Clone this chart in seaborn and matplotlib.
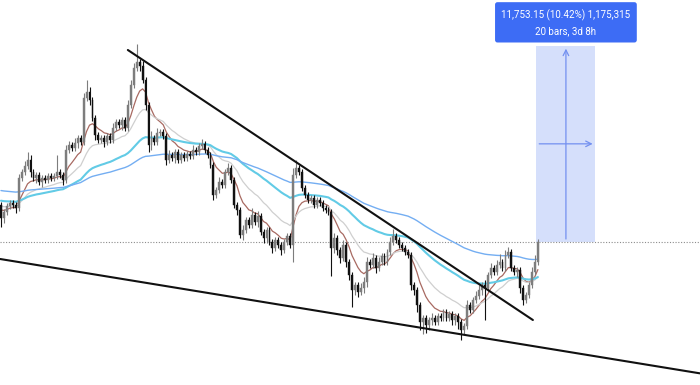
import numpy as np
import pandas as pd
import matplotlib
matplotlib.use("Agg")
import matplotlib.pyplot as plt
import seaborn as sns

# --- data: 4h candles, prices in thousands ---
close = [
    114.22, 114.58, 114.94, 115.12, 115.00, 114.82, 116.62, 116.98, 117.34, 117.70,
    116.98, 116.62, 116.80, 116.38, 116.62, 116.50, 116.74, 116.62, 116.74, 116.98,
    116.80, 116.50, 118.30, 118.60, 118.42, 118.72, 119.02, 118.78, 121.42, 121.78,
    121.30, 120.22, 119.20, 118.90, 119.02, 118.78, 119.14, 118.90, 119.62, 119.98,
    119.80, 120.10, 119.62, 121.00, 122.20, 123.22, 123.58, 123.34, 122.50, 121.00,
    118.60, 119.02, 118.78, 119.32, 119.38, 119.14, 117.70, 118.00, 117.82, 118.18,
    117.70, 118.00, 117.82, 118.06, 117.94, 118.30, 118.18, 118.54, 118.66, 118.30,
    118.00, 117.40, 115.60, 115.90, 116.38, 116.20, 116.98, 117.22, 116.50, 115.00,
    114.70, 113.20, 113.50, 114.10, 113.80, 114.40, 113.98, 114.34, 113.38, 113.02,
    113.50, 112.78, 112.42, 112.90, 112.60, 112.30, 112.78, 113.14, 112.60, 116.80,
    117.22, 116.98, 116.02, 115.60, 115.30, 115.42, 115.00, 115.30, 115.12, 114.82,
    114.70, 114.58, 112.42, 113.02, 112.30, 111.82, 112.60, 111.58, 110.80, 109.90,
    110.20, 109.78, 110.02, 110.38, 111.58, 111.40, 111.82, 111.22, 111.58, 111.94,
    111.58, 112.18, 112.78, 113.14, 112.90, 112.60, 112.42, 112.18, 112.00, 110.20,
    109.90, 109.00, 107.98, 108.22, 107.80, 108.10, 108.22, 107.98, 108.34, 108.22,
    108.58, 108.22, 108.46, 108.10, 108.34, 107.98, 107.50, 107.74, 109.00, 108.70,
    109.30, 109.54, 109.90, 110.20, 110.02, 110.80, 111.22, 110.98, 111.40, 111.58,
    111.22, 112.00, 112.18, 111.22, 110.98, 111.10, 110.02, 109.30, 109.60, 110.20,
    110.98, 111.58, 112.79,
]
first_open = 115.00

upper_wick = [
    .20, .20, .15, .20, .15, .20, .25, .20, .30, .48,
    .30, .20, .20, .15, .20, .20, .20, .15, .20, 1.0,
    .20, .20, .30, .25, .20, .30, .20, .20, .30, .72,
    .30, .20, .20, .15, .20, .20, .20, .20, .30, .20,
    .20, .20, .20, .30, .30, .30, 1.08, .20, .30, .20,
    .20, .40, .20, .30, .20, .20, .20, .30, .20, .20,
    .20, .20, .20, .20, .20, .30, .20, .20, .30, .20,
    .20, .20, .20, .20, .30, .20, .20, .30, .20, .20,
    .20, .20, .30, .20, .20, .40, .20, .30, .20, .20,
    .20, .20, .20, .20, .20, .20, .20, .20, .20, .40,
    .50, .20, .20, .20, .20, .20, .20, .20, .20, .20,
    .20, .20, .20, .30, .20, .20, .30, .20, .20, .20,
    .20, .20, .30, .30, .30, .20, .30, .20, .30, .20,
    .20, .20, .30, .40, .20, .20, .20, .20, .20, .20,
    .20, .20, .20, .20, .20, .20, .30, .20, .20, .20,
    .20, .20, .20, .20, .20, .20, .20, .20, .30, .20,
    .20, .30, .30, .20, .30, .20, .30, .20, .30, .50,
    .20, .30, .30, .20, .20, .20, .20, .20, .20, .20,
    .30, .40, .15,
]

lower_wick = [
    .55, .30, .20, .20, .20, .30, .20, .20, .20, .20,
    .30, .20, .30, .20, .30, .20, .20, .20, .20, .20,
    .20, .30, .20, .20, .20, .20, .30, .20, .20, .20,
    .30, .20, .30, .20, .20, .30, .20, .20, .20, .20,
    .20, .30, .20, .20, .20, .20, .20, .30, .20, .30,
    .40, .30, .20, .20, .20, .20, .30, .20, .20, .30,
    .20, .20, .20, .20, .20, .20, .20, .20, .20, .20,
    .20, .20, .30, .20, .20, .20, .20, .20, .20, .20,
    .30, .20, .30, .20, .20, .20, .20, .30, .20, .30,
    .30, .20, .30, .20, .20, .30, .20, .20, .20, 1.00,
    .20, .20, .20, .20, .20, .20, .20, .20, .20, .20,
    .20, .20, 1.70, .30, .30, .30, .20, .30, .30, 1.00,
    .30, .30, .20, .30, .30, .20, .20, .30, .20, .20,
    .20, .20, .20, .20, .20, .20, .20, .20, .20, .30,
    .30, .40, .50, .70, .50, .30, .30, .20, .20, .20,
    .20, .20, .20, .30, .30, .40, .60, .30, .20, .20,
    .20, .20, .20, .30, 1.90, .20, .20, .20, .20, .20,
    .20, .20, .20, .20, .20, .30, .30, .30, .20, .20,
    .20, .20, .20,
]

# moving averages: span, starting value read at left edge, colour, width
ma_names = ["EMA 9", "EMA 21", "EMA 50", "EMA 100"]
ma_spans = [9, 21, 50, 100]
ma_seeds = [114.82, 115.00, 115.30, 115.90]
ma_colors = ["#a86a62", "#cfcfcf", "#62cbe6", "#74aef2"]
ma_widths = [0.9, 0.9, 1.5, 1.0]

# drawn trend lines (bar index, price)
upper_line_x = [43.0, 180.3]
upper_line_y = [124.30, 108.10]
lower_line_x = [-0.3, 236.9]
lower_line_y = [111.76, 104.90]

# measure tool
measure_start = 182
measure_bars = 20
measure_base = 112.793
measure_change = 11.75315
measure_label = "11,753.15 (10.42%) 1,175,315\n20 bars, 3d 8h"

# --- frame ---
n = len(close)
bars = np.arange(n)
opens = [first_open] + close[:-1]
df = pd.DataFrame({"bar": bars, "open": opens, "close": close})
df["high"] = df[["open", "close"]].max(axis=1) + np.array(upper_wick)
df["low"] = df[["open", "close"]].min(axis=1) - np.array(lower_wick)

def ema(values, span, seed):
    a = 2.0 / (span + 1)
    out, prev = [], seed
    for v in values:
        prev = prev + a * (v - prev)
        out.append(prev)
    return out

ma_frames = []
for name, span, seed in zip(ma_names, ma_spans, ma_seeds):
    ma_frames.append(pd.DataFrame({"bar": bars, "value": ema(close, span, seed), "ma": name}))
ma_df = pd.concat(ma_frames, ignore_index=True)

# --- plot ---
sns.set_style("white")
plt.rcParams["font.family"] = ["Roboto", "DejaVu Sans"]
fig = plt.figure(figsize=(7, 3.85), dpi=100)
ax = fig.add_axes([0, 0, 1, 1])

sns.lineplot(data=ma_df, x="bar", y="value", hue="ma", hue_order=ma_names,
             palette=dict(zip(ma_names, ma_colors)), size="ma", size_order=ma_names,
             sizes=dict(zip(ma_names, ma_widths)), legend=False, ax=ax, zorder=2)

up = df["close"] >= df["open"]
for mask, col in [(up, "#7d7d7d"), (~up, "#111111")]:
    sub = df[mask]
    ax.vlines(sub["bar"], sub["low"], sub["high"], color=col, lw=0.8, zorder=3)
    h = (sub["close"] - sub["open"]).abs().clip(lower=0.05)
    ax.bar(sub["bar"], h, bottom=sub[["open", "close"]].min(axis=1), width=0.62,
           color=col, edgecolor=col, linewidth=0.3, zorder=4)

ax.plot(upper_line_x, upper_line_y, color="#111111", lw=1.5, zorder=5)
ax.plot(lower_line_x, lower_line_y, color="#111111", lw=1.5, zorder=5)

ax.axhline(measure_base, color="#8c8c8c", lw=0.8, ls=(0, (1, 1.5)), zorder=1)

x0 = measure_start - 0.5
x1 = x0 + measure_bars
top = measure_base + measure_change
mid_x = (x0 + x1) / 2
ax.add_patch(plt.Rectangle((x0, measure_base), measure_bars, measure_change,
                           facecolor="#d5dffb", edgecolor="none", zorder=0))
ax.annotate("", xy=(mid_x, top), xytext=(mid_x, measure_base),
            arrowprops=dict(arrowstyle="->", color="#7390f0", lw=0.9), zorder=1)
ax.annotate("", xy=(x1, measure_base + measure_change / 2),
            xytext=(x0, measure_base + measure_change / 2),
            arrowprops=dict(arrowstyle="->", color="#7390f0", lw=0.9), zorder=1)
ax.annotate(measure_label, xy=(mid_x, top), xytext=(0, 7), textcoords="offset points",
            ha="center", va="bottom", color="white", fontsize=7, linespacing=1.7,
            bbox=dict(boxstyle="round,pad=0.65,rounding_size=0.25", fc="#3d6cf5", ec="none"),
            zorder=6)

ax.set_xlim(-0.34, 236.95)
ax.set_ylim(104.2, 127.3)
ax.axis("off")

fig.savefig("out.png", dpi=100, facecolor="white")
